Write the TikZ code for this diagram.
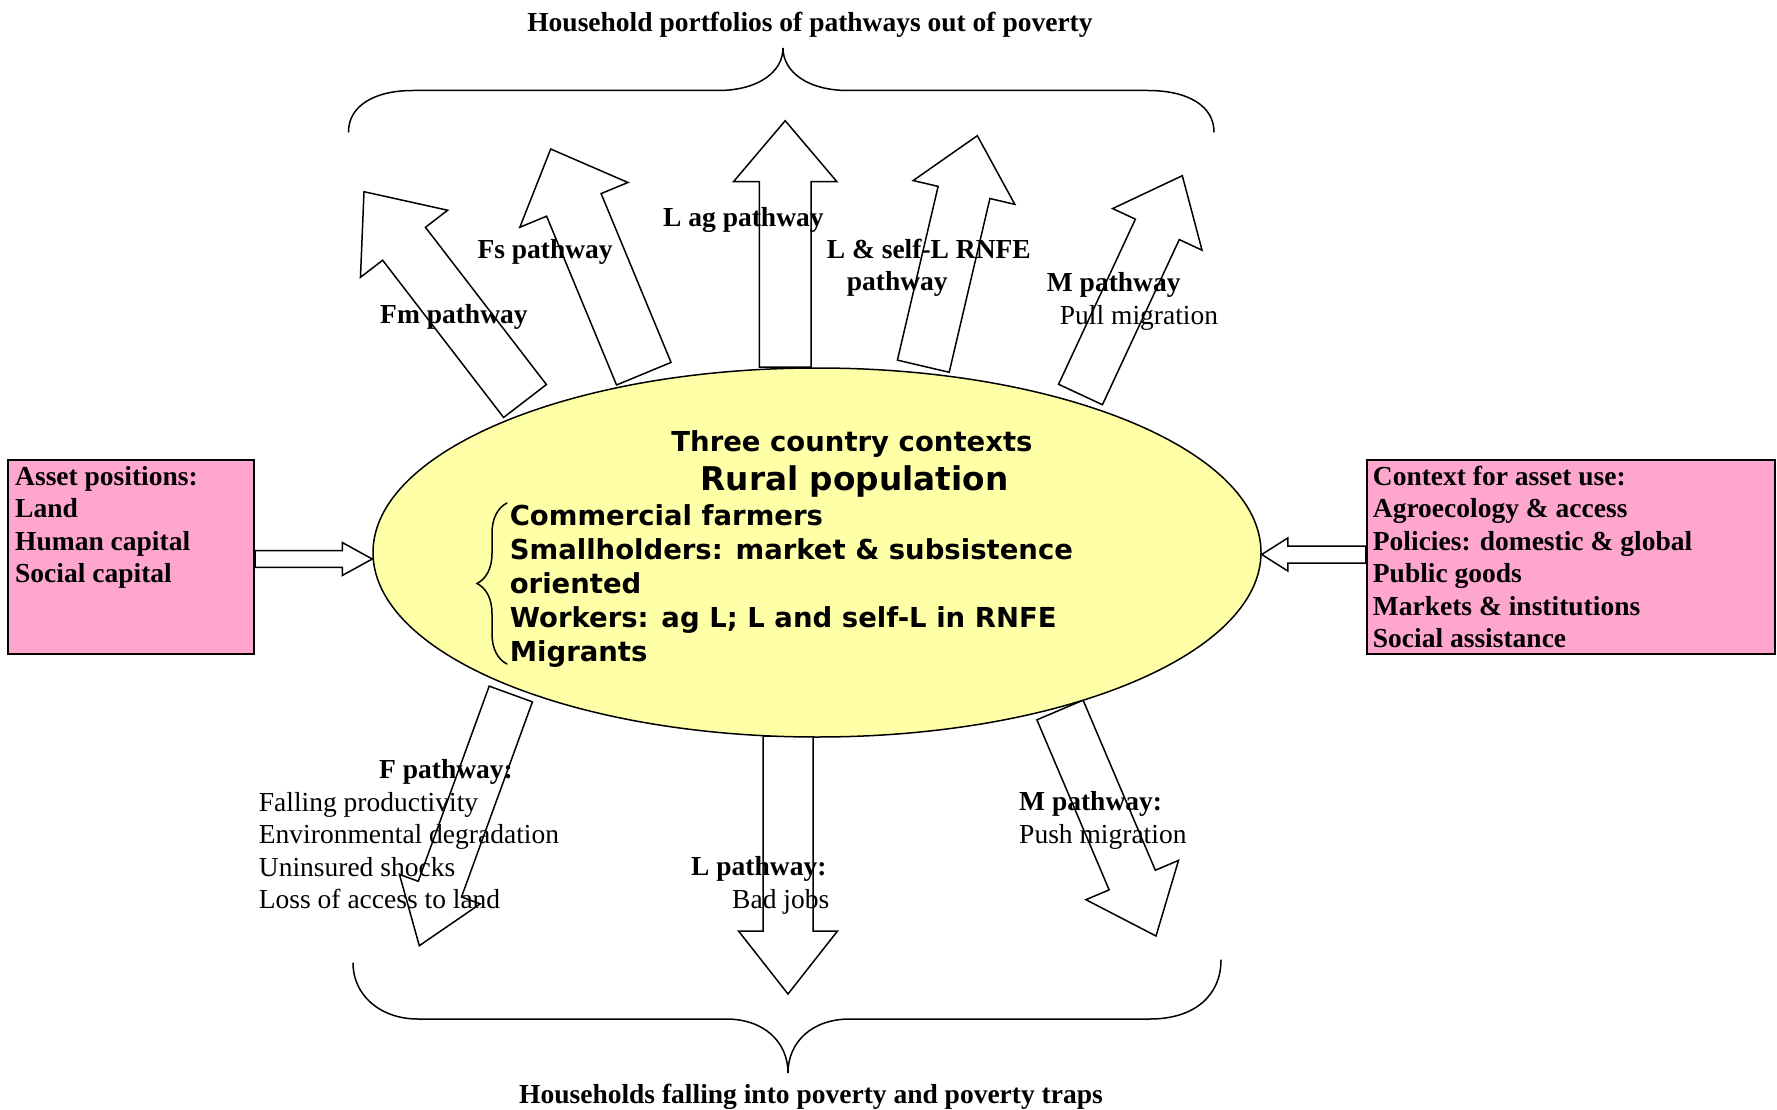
\documentclass[tikz,border=0pt]{standalone}
\usepackage{fontspec}
\setmainfont{Liberation Serif}
\newfontfamily\ellfont{DejaVu Sans}
\usetikzlibrary{shapes.geometric,calc,decorations.pathreplacing}
\definecolor{ellyellow}{RGB}{255,255,168}
\definecolor{boxpink}{RGB}{255,166,206}
\newcommand\tlines[1]{\begin{tabular}[t]{@{}l@{}}#1\end{tabular}}
% #1 base, #2 tip, #3 half shaft width, #4 half head width, #5 head length, #6 name
\newcommand\blockarrow[6]{%
  \coordinate (#6-b) at #1;
  \coordinate (#6-t) at #2;
  \coordinate (#6-h) at ($(#6-t)!#5!(#6-b)$);
  \draw[barrow] ($(#6-b)!#3!90:(#6-t)$) -- ($(#6-h)!#3!90:(#6-t)$) -- ($(#6-h)!#4!90:(#6-t)$) -- (#6-t)
     -- ($(#6-h)!#4!-90:(#6-t)$) -- ($(#6-h)!#3!-90:(#6-t)$) -- ($(#6-b)!#3!-90:(#6-t)$) -- cycle;
}
\tikzset{
  barrow/.style={draw=black, fill=white, line width=1.5pt, line join=miter},
  popell/.style={ellipse, draw=black, fill=ellyellow, line width=1.5pt, minimum width=888pt, minimum height=369pt, inner sep=0pt},
  pinkbox/.style={rectangle, draw=black, fill=boxpink, line width=2.2pt, inner sep=0pt},
  serifb/.style={font=\fontsize{27.5}{32.5}\selectfont\bfseries, inner sep=0pt, anchor=base west},
  serifr/.style={font=\fontsize{27.5}{32.5}\selectfont, inner sep=0pt, anchor=base west},
  ellb/.style={font=\ellfont\fontsize{27.5}{34}\selectfont\bfseries, inner sep=0pt},
  bracep/.style={line width=1.5pt, line cap=round},
}
\begin{document}
\begin{tikzpicture}[x=1pt, y=-1pt]
\useasboundingbox (0,0) rectangle (1777,1110);
\fill[white] (0,0) rectangle (1777,1110);

% big braces
\draw[bracep] (348.5,132) .. controls (348.5,106) and (374,90.5) .. (413,90.5) -- (718,90.5)
  .. controls (758,90.5) and (783,72) .. (783,48) .. controls (783,72) and (808,90.5) .. (848,90.5)
  -- (1148,90.5) .. controls (1188,90.5) and (1214,106) .. (1214,132);
\draw[bracep] (353,963) .. controls (353,995) and (380,1019) .. (418,1019) -- (726,1019)
  .. controls (764,1019) and (788,1042) .. (788,1073) .. controls (788,1042) and (812,1019) .. (850,1019)
  -- (1150,1019) .. controls (1195,1019) and (1221,995) .. (1221,960);

% pathway arrows
\blockarrow{(525,401)}{(364,191.7)}{27pt}{55pt}{65.7pt}{afm}
\blockarrow{(643.8,373.7)}{(550.7,149)}{29.5pt}{58.5pt}{60.5pt}{afs}
\blockarrow{(785.2,367)}{(785.2,120.7)}{25.8pt}{51.7pt}{61pt}{alag}
\blockarrow{(923.3,366.2)}{(977.3,135.7)}{26.6pt}{52.2pt}{58.3pt}{arnfe}
\blockarrow{(1080.5,394.5)}{(1182.3,175.7)}{24.2pt}{49.3pt}{59.2pt}{ampull}
\blockarrow{(510.8,694)}{(419.3,945.7)}{23pt}{43pt}{60.2pt}{af}
\blockarrow{(788,736)}{(788,994)}{25pt}{49.5pt}{63pt}{al}
\blockarrow{(1060,710)}{(1156,936)}{25.1pt}{50.3pt}{60.8pt}{ampush}

% central ellipse
\node[popell] (pop) at (817,552.5) {};
\draw[bracep, decorate, decoration={brace, amplitude=30pt}] (507,664) -- (507,503);

% side boxes
\node[pinkbox, minimum width=246pt, minimum height=194pt] (abox) at (131,557) {};
\node[pinkbox, minimum width=408pt, minimum height=194pt] (cbox) at (1571,557) {};

% horizontal arrows
\blockarrow{([yshift=-2pt]abox.east)}{([yshift=-2pt]abox.east -| pop.west)}{8.4pt}{16.5pt}{30pt}{aasset}
\blockarrow{([yshift=2.5pt]cbox.west)}{([yshift=2.5pt]cbox.west -| pop.east)}{8.5pt}{16.5pt}{26pt}{actx}

% titles
\node[serifb, anchor=base] (ttop) at (810,31.5) {Household portfolios of pathways out of poverty};
\node[serifb, anchor=base] (tbot) at (811,1103) {Households falling into poverty and poverty traps};

% box texts
\node[serifb] (atext) at (15,485) {\tlines{Asset positions:\\Land\\Human capital\\Social capital}};
\node[serifb] (ctext) at (1372.7,485) {\tlines{Context for asset use:\\Agroecology \& access\\Policies: domestic \& global\\Public goods\\Markets \& institutions\\Social assistance}};

% upward labels
\node[serifb] (lfm) at (380,323.3) {Fm pathway};
\node[serifb] (lfs) at (477.3,258.3) {Fs pathway};
\node[serifb] (llag) at (663,226) {L ag pathway};
\node[serifb] (lrnfe) at (826.6,258.3) {\tlines{L \& self-L RNFE\\\hspace*{20pt}pathway}};
\node[serifr] (lmpull) at (1046.7,291.5) {\tlines{\textbf{M pathway}\\\hspace*{13pt}Pull migration}};

% downward labels
\node[serifr] (lf) at (258.7,778.5) {\tlines{\hspace*{120.3pt}\textbf{F pathway:}\\Falling productivity\\Environmental degradation\\Uninsured shocks\\Loss of access to land}};
\node[serifr] (ll) at (691,875.5) {\tlines{\textbf{L pathway:}\\\hspace*{41pt}Bad jobs}};
\node[serifr] (lmpush) at (1019,810.7) {\tlines{\textbf{M pathway:}\\Push migration}};

% ellipse texts
\node[ellb, anchor=base] (e1) at (852,451.7) {Three country contexts};
\node[ellb, font=\ellfont\fontsize{32.7}{38}\selectfont\bfseries, anchor=base] (e2) at (854.5,490.7) {Rural population};
\node[ellb, anchor=base west] (e3) at (509.6,525) {\tlines{Commercial farmers\\Smallholders: market \& subsistence\\oriented\\Workers: ag L; L and self-L in RNFE\\Migrants}};
\end{tikzpicture}
\end{document}
